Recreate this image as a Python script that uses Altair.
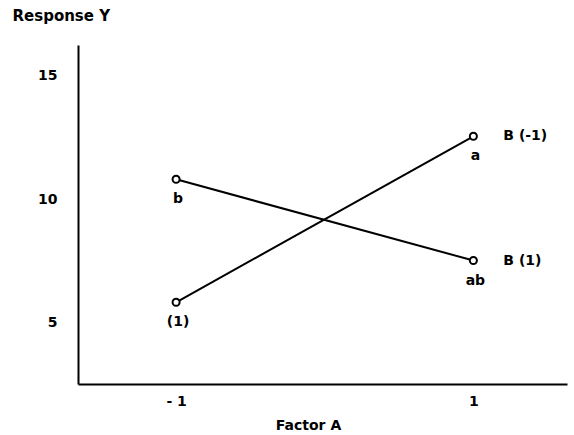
import altair as alt
import pandas as pd

# Two-factor interaction plot: response Y against factor A, one line per level of B
factor_a = [-1, 1]
y_b_low = [5.8, 12.55]     # B = -1: runs (1) and a
y_b_high = [10.8, 7.5]     # B = +1: runs b and ab
runs_b_low = ["(1)", "a"]
runs_b_high = ["b", "ab"]
series_names = ["B (-1)", "B (1)"]
y_ticks = [5, 10, 15]

rows = []
for a, y, run in zip(factor_a, y_b_low, runs_b_low):
    rows.append({"A": a, "Y": y, "run": run, "B": series_names[0]})
for a, y, run in zip(factor_a, y_b_high, runs_b_high):
    rows.append({"A": a, "Y": y, "run": run, "B": series_names[1]})
df = pd.DataFrame(rows)

FONT = "DejaVu Sans"
FS = 14

x_enc = alt.X(
    "A:Q",
    scale=alt.Scale(domain=[-1.66, 1.63], nice=False, zero=False),
    axis=alt.Axis(
        values=factor_a,
        labelExpr="datum.value == -1 ? '- 1' : '1'",
        title="Factor A",
        titleFont=FONT, titleFontSize=FS, titleFontWeight="bold",
        titleX=230, titleY=41, titleBaseline="middle",
        labelFont=FONT, labelFontSize=FS, labelFontWeight="bold",
        labelPadding=10, ticks=False, grid=False,
        domainColor="black", domainWidth=2,
    ),
)
y_enc = alt.Y(
    "Y:Q",
    scale=alt.Scale(domain=[2.48, 16.26], nice=False, zero=False),
    axis=alt.Axis(
        values=y_ticks,
        title="Response Y",
        titleAngle=0, titleAlign="left", titleBaseline="middle",
        titleX=-66, titleY=-30,
        titleFont=FONT, titleFontSize=15, titleFontWeight="bold",
        labelFont=FONT, labelFontSize=FS, labelFontWeight="bold",
        labelPadding=21, ticks=False, grid=False,
        domainColor="black", domainWidth=2,
    ),
)

base = alt.Chart(df).encode(x=x_enc, y=y_enc)

lines = base.mark_line(color="black", strokeWidth=2).encode(detail="B:N")

points = base.mark_point(
    shape="circle", size=50, filled=False, fill="white", fillOpacity=1,
    stroke="black", strokeWidth=2, opacity=1,
)

run_labels = base.mark_text(
    font=FONT, fontSize=FS, fontWeight="bold", color="black",
    dy=20, dx=2, baseline="middle", align="center",
).encode(text="run:N")

series_labels = alt.Chart(df[df["A"] == 1]).mark_text(
    font=FONT, fontSize=FS, fontWeight="bold", color="black",
    dx=30, align="left", baseline="middle",
).encode(x=x_enc, y=y_enc, text="B:N")

chart = (
    alt.layer(lines, points, run_labels, series_labels)
    .properties(
        width=489, height=339,
        autosize=alt.AutoSizeParams(type="none"),
        padding={"left": 78, "top": 45, "right": 7, "bottom": 51},
        background="white",
    )
    .configure_view(stroke=None)
)

chart.save("out.html", embed_options={"renderer": "svg", "actions": False})
